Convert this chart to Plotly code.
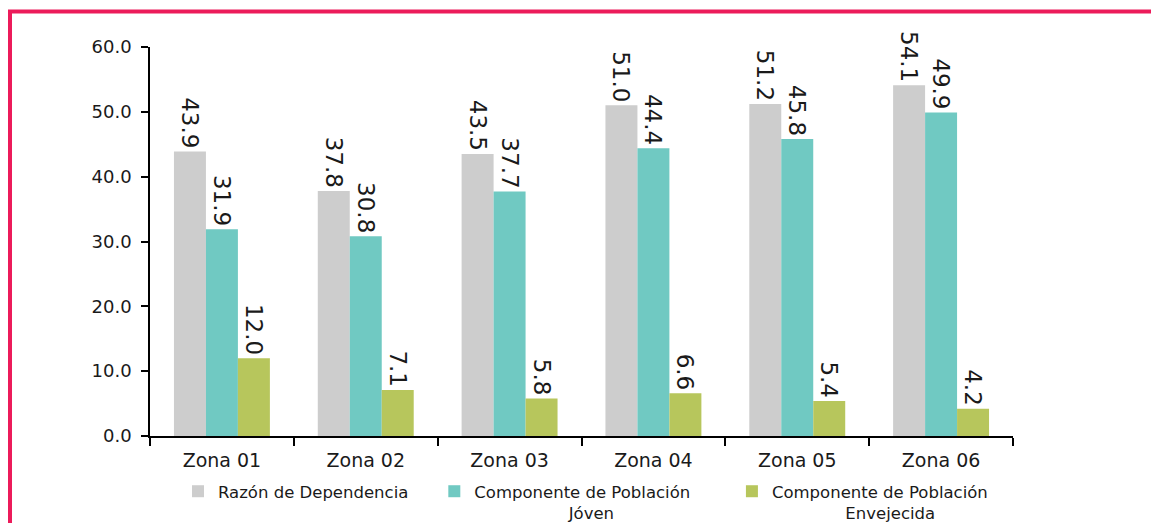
import plotly.graph_objects as go

# Zonas y componentes de la razón de dependencia
zonas = ["Zona 01", "Zona 02", "Zona 03", "Zona 04", "Zona 05", "Zona 06"]
razon_dependencia = [43.9, 37.8, 43.5, 51.0, 51.2, 54.1]
componente_joven = [31.9, 30.8, 37.7, 44.4, 45.8, 49.9]
componente_envejecida = [12.0, 7.1, 5.8, 6.6, 5.4, 4.2]

series = [
    ("Razón de Dependencia" + "\u00a0" * 4, razon_dependencia, "#cdcdcd"),
    ("Componente de Población" + "\u00a0" * 7 + "<br>"
     + "\u00a0" * 18 + "Jóven", componente_joven, "#70c9c2"),
    ("Componente de Población<br>" + "\u00a0" * 14 + "Envejecida",
     componente_envejecida, "#b7c65c"),
]

FONT = "DejaVu Sans"
TEXT_COLOR = "#1a1a1a"

fig = go.Figure()
for name, values, color in series:
    fig.add_trace(go.Bar(
        x=zonas,
        y=values,
        name=name,
        marker=dict(color=color, line=dict(width=0)),
        text=[f"{v:.1f}" for v in values],
        textposition="outside",
        textangle=90,
        constraintext="none",
        cliponaxis=False,
        textfont=dict(family=FONT, size=23, color=TEXT_COLOR),
    ))

W, H = 1151, 523
ML, MR, MT, MB = 150, 138, 47, 87
pw, ph = W - ML - MR, H - MT - MB


def px_x(x):
    return (x - ML) / pw


def px_y(y):
    return (H - MB - y) / ph


fig.update_layout(
    width=W,
    height=H,
    margin=dict(l=ML, r=MR, t=MT, b=MB, autoexpand=False),
    paper_bgcolor="white",
    plot_bgcolor="white",
    barmode="group",
    bargap=0.333,
    bargroupgap=0,
    font=dict(family=FONT, color=TEXT_COLOR),
    showlegend=True,
    legend=dict(
        orientation="h",
        x=px_x(178),
        xanchor="left",
        y=px_y(474),
        yanchor="top",
        valign="top",
        font=dict(family=FONT, size=16.5, color=TEXT_COLOR),
        itemwidth=30,
        traceorder="normal",
        bgcolor="rgba(0,0,0,0)",
    ),
    xaxis=dict(
        showline=True,
        linecolor="#000000",
        linewidth=1.5,
        ticks="outside",
        tickson="boundaries",
        ticklen=8,
        tickcolor="#000000",
        tickwidth=1.5,
        ticklabelstandoff=6,
        tickfont=dict(family=FONT, size=19, color=TEXT_COLOR),
        showgrid=False,
        zeroline=False,
    ),
    yaxis=dict(
        range=[0, 60],
        dtick=10,
        tickformat=".1f",
        showline=True,
        linecolor="#000000",
        linewidth=1.5,
        ticks="outside",
        ticklen=7,
        tickcolor="#000000",
        tickwidth=1.5,
        ticklabelstandoff=6,
        tickfont=dict(family=FONT, size=18, color=TEXT_COLOR),
        showgrid=False,
        zeroline=False,
    ),
    shapes=[
        dict(
            type="rect",
            xref="paper",
            yref="paper",
            x0=px_x(10),
            x1=px_x(1200),
            y0=px_y(11.5),
            y1=px_y(600),
            line=dict(color="#ec1b5a", width=4),
            fillcolor="rgba(0,0,0,0)",
            layer="below",
        )
    ],
)

fig.write_html("out.html")
